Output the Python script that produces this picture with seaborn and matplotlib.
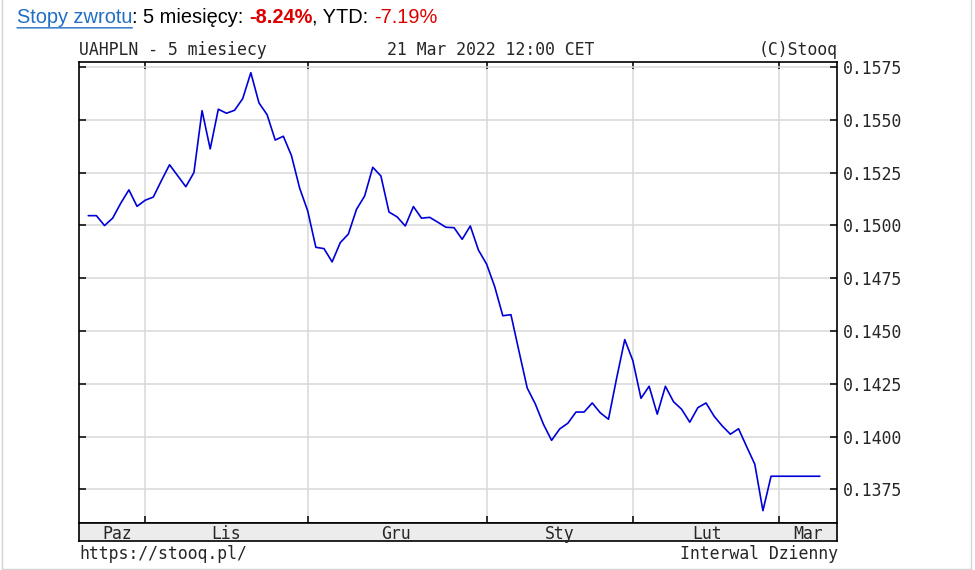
import pandas as pd
import seaborn as sns
import matplotlib.pyplot as plt
from matplotlib.lines import Line2D

# UAHPLN daily closes, 5 months
kurs = [0.15046, 0.15046, 0.14999, 0.15034, 0.15105, 0.15168, 0.15090, 0.15119,
        0.15134, 0.15212, 0.15287, 0.15235, 0.15183, 0.15250, 0.15543, 0.15362,
        0.15550, 0.15531, 0.15545, 0.15600, 0.15723, 0.15580, 0.15524, 0.15404,
        0.15422, 0.15330, 0.15177, 0.15068, 0.14896, 0.14890, 0.14827, 0.14918,
        0.14959, 0.15076, 0.15139, 0.15275, 0.15234, 0.15063, 0.15040, 0.14997,
        0.15089, 0.15034, 0.15038, 0.15015, 0.14991, 0.14989, 0.14934, 0.14997,
        0.14883, 0.14817, 0.14710, 0.14572, 0.14577, 0.14402, 0.14230, 0.14154,
        0.14058, 0.13982, 0.14036, 0.14063, 0.14116, 0.14116, 0.14159, 0.14112,
        0.14082, 0.14276, 0.14459, 0.14359, 0.14181, 0.14238, 0.14106, 0.14238,
        0.14165, 0.14129, 0.14068, 0.14137, 0.14159, 0.14096, 0.14050, 0.14011,
        0.14037, 0.13952, 0.13869, 0.13649, 0.13812, 0.13812, 0.13812, 0.13812,
        0.13812, 0.13812, 0.13812]

# first session of each month (index into kurs)
month_starts = [7, 27, 49, 67, 85]
month_names = ['Paz', 'Lis', 'Gru', 'Sty', 'Lut', 'Mar']
month_label_pos = [3.5, 17.0, 37.9, 58.0, 76.1, 88.5]
y_ticks = [0.1375, 0.1400, 0.1425, 0.1450, 0.1475, 0.1500, 0.1525, 0.1550, 0.1575]

df = pd.DataFrame({'idx': range(len(kurs)), 'kurs': kurs})

sns.set_theme(style='white')
plt.rcParams['font.family'] = ['DejaVu Sans Mono']
MONO = 11.9

W, H = 975, 570
fig = plt.figure(figsize=(W / 100, H / 100), dpi=100)
fig.patch.set_facecolor('white')


def fx(px):
    return px / W


def fy(py):
    return 1 - py / H


left, right, top, bottom, strip_bottom = 79, 837.3, 61.7, 522.7, 540.7
ax = fig.add_axes([fx(left), fy(bottom), (right - left) / W, (bottom - top) / H])
ax2 = fig.add_axes([fx(left), fy(strip_bottom), (right - left) / W, (strip_bottom - bottom) / H])

sns.lineplot(data=df, x='idx', y='kurs', ax=ax, color='#0000d8', linewidth=1.2)

ax.set_xlim(-1.14, 92.15)
ax.set_ylim(0.13592, 0.15775)
ax.set_yticks(y_ticks)
ax.set_yticklabels([f'{v:.4f}' for v in y_ticks], fontsize=MONO)
ax.set_xticks(month_starts)
ax.tick_params(axis='y', left=True, right=True, labelleft=False, labelright=True,
               direction='in', length=5, width=1.1, color='black', pad=4)
ax.tick_params(axis='x', top=True, bottom=True, labelbottom=False,
               direction='in', length=5, width=1.1, color='black')
ax.grid(True, color='#d9d9d9', linewidth=1.1)
ax.set_xlabel('')
ax.set_ylabel('')
for s in ax.spines.values():
    s.set_color('black')
    s.set_linewidth(1.2)

# month strip
ax2.set_facecolor('#ececec')
ax2.set_xlim(ax.get_xlim())
ax2.set_ylim(0, 1)
ax2.set_xticks([])
ax2.set_yticks([])
for s in ax2.spines.values():
    s.set_color('black')
    s.set_linewidth(1.2)
for pos, name in zip(month_label_pos, month_names):
    ax2.text(pos, 0.12, name, ha='center', va='baseline', fontsize=MONO)

# texts around the chart
fig.text(fx(left), fy(55), 'UAHPLN - 5 miesiecy', ha='left', va='baseline', fontsize=MONO)
fig.text(fx(387), fy(55), '21 Mar 2022 12:00 CET', ha='left', va='baseline', fontsize=MONO)
fig.text(fx(838), fy(55), '(C)Stooq', ha='right', va='baseline', fontsize=MONO)
fig.text(fx(left), fy(559), 'https://stooq.pl/', ha='left', va='baseline', fontsize=MONO)
fig.text(fx(838), fy(559), 'Interwal Dzienny', ha='right', va='baseline', fontsize=MONO)

# header line
hdr = dict(fontsize=14.45, family=['Liberation Sans', 'DejaVu Sans'])
t = fig.text(fx(17), fy(22.7), 'Stopy zwrotu', color='#1f6fc5', va='baseline', **hdr)
ax.annotate('', xy=(1, -0.06), xycoords=t, xytext=(0, -0.06), textcoords=t,
            arrowprops=dict(arrowstyle='-', color='#1f6fc5', lw=1, shrinkA=0, shrinkB=0))
pieces = [(': 5 miesięcy: ', 'black', 'normal'),
          ('-8.24%', '#dd0000', 'bold'),
          (', YTD: ', 'black', 'normal'),
          ('-7.19%', '#dd0000', 'normal')]
prev = t
for txt, col, wt in pieces:
    prev = ax.annotate(txt, xy=(1, 0), xycoords=prev, va='bottom', ha='left',
                       color=col, fontweight=wt, annotation_clip=False, **hdr)

# page frame
for xs, ys in [((1.5, 1.5), (0, 568.5)), ((970.5, 970.5), (0, 568.5)),
               ((1.5, 970.5), (568.5, 568.5))]:
    fig.add_artist(Line2D([fx(x) for x in xs], [fy(y) for y in ys],
                          color='#d4d4d4', linewidth=1))

fig.savefig('out.png', dpi=100, facecolor='white')
